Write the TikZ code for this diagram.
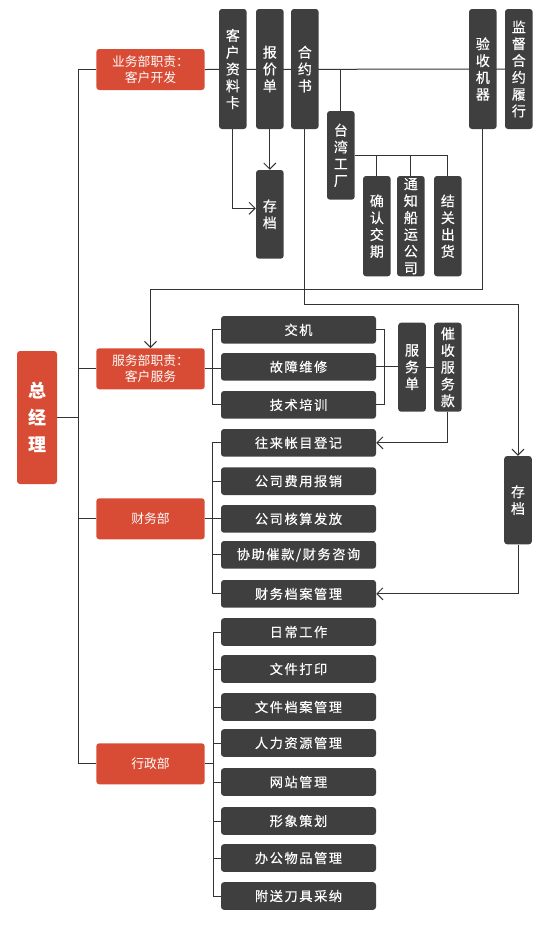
\documentclass[tikz,border=0pt]{standalone}
\usepackage{fontspec}
\setmainfont{Noto Sans CJK SC}
\newfontfamily\greyfont{Noto Sans CJK SC}[LetterSpace=12,FakeBold=0.4]
\newfontfamily\vfont{Noto Sans CJK SC}[FakeBold=0.4]
\usetikzlibrary{arrows.meta,backgrounds}
\definecolor{redc}{HTML}{D84B34}
\definecolor{greyc}{HTML}{3F3F3F}
\definecolor{linec}{HTML}{333333}
\tikzset{
  redbox/.style={fill=redc,rounded corners=3pt,text=white,inner sep=0pt,align=center,
    minimum width=108.4pt,minimum height=41pt,font=\fontsize{12.8}{16}\selectfont},
  vbox/.style={fill=greyc,rounded corners=3pt,text=white,inner sep=0pt,align=center,
    minimum width=27.7pt,font=\vfont\fontsize{14}{16.8}\selectfont},
  hbox/.style={fill=greyc,rounded corners=3pt,text=white,inner sep=0pt,align=center,
    minimum width=155pt,minimum height=27.7pt,font=\greyfont\fontsize{13.2}{16}\selectfont},
  conn/.style={draw=linec,line width=1pt},
  arr/.style={conn,-{Straight Barb[length=6pt,width=12pt]}},
}
\begin{document}
\begin{tikzpicture}[x=1pt,y=-1pt]
\useasboundingbox (0,0) rectangle (545,935);
% red boxes
\node[redbox] (yw) at (150.5,69.5) {业务部职责：\\客户开发};
\node[redbox] (fw) at (150.5,368.8) {服务部职责：\\客户服务};
\node[redbox] (cw) at (150.5,518.8) {财务部};
\node[redbox] (xz) at (150.5,763.8) {行政部};
\node[fill=redc,rounded corners=3pt,text=white,inner sep=0pt,align=center,
  minimum width=40pt,minimum height=133pt,font=\bfseries\fontsize{18}{26.7}\selectfont]
  (zjl) at (37,417.5) {总\\经\\理};
% vertical grey boxes
\node[vbox,minimum height=120pt] (khzl) at (232.85,69) {客\\户\\资\\料\\卡};
\node[vbox,minimum height=120pt] (bjd) at (269.85,69) {报\\价\\单};
\node[vbox,minimum height=120pt] (hys) at (304.85,69) {合\\约\\书};
\node[vbox,minimum height=120pt] (ysjq) at (482.85,69) {验\\收\\机\\器};
\node[vbox,minimum height=120pt] (jdhy) at (518.85,69) {监\\督\\合\\约\\履\\行};
\node[vbox,minimum height=88.7pt] (cd1) at (269.85,214.35) {存\\档};
\node[vbox,minimum height=88.7pt] (twgc) at (340.85,155.35) {台\\湾\\工\\厂};
\node[vbox,minimum height=100.3pt] (qrjq) at (376.85,226.15) {确\\认\\交\\期};
\node[vbox,minimum height=100.3pt] (tzcy) at (410.85,226.15) {通\\知\\船\\运\\公\\司};
\node[vbox,minimum height=100.3pt] (jgch) at (447.85,226.15) {结\\关\\出\\货};
\node[vbox,minimum height=89pt] (fwd) at (412,367.2) {服\\务\\单};
\node[vbox,minimum height=89pt] (csfwk) at (447.85,367.2) {催\\收\\服\\务\\款};
\node[vbox,minimum height=88.3pt] (cd2) at (518,500.15) {存\\档};
% horizontal grey boxes
\node[hbox] (jj) at (298.5,329.85) {交机};
\node[hbox] (gzwx) at (298.5,366.85) {故障维修};
\node[hbox] (jspx) at (298.5,404.85) {技术培训};
\node[hbox] (wlzm) at (298.5,442.85) {往来帐目登记};
\node[hbox] (gsfy) at (298.5,481.15) {公司费用报销};
\node[hbox] (gshs) at (298.5,518.85) {公司核算发放};
\node[hbox] (xzck) at (298.5,554.85) {协助催款/财务咨询};
\node[hbox] (cwda) at (298.5,593.85) {财务档案管理};
\node[hbox] (rcgz) at (298.5,632) {日常工作};
\node[hbox] (wjdy) at (298.5,669) {文件打印};
\node[hbox] (wjda) at (298.5,707) {文件档案管理};
\node[hbox] (rlzy) at (298.5,743) {人力资源管理};
\node[hbox] (wzgl) at (298.5,782) {网站管理};
\node[hbox] (xxch) at (298.5,821) {形象策划};
\node[hbox] (bgwp) at (298.5,858) {办公物品管理};
\node[hbox] (fsdj) at (298.5,896) {附送刀具采纳};
% helper coordinates
\coordinate (tk) at (78.3,0);
\coordinate (b1) at (212.5,0);
\coordinate (b2) at (384.3,0);
\coordinate (b4) at (213.3,0);
\coordinate (ry1) at (0,289);
\coordinate (ry2) at (0,304);
\begin{scope}[on background layer]
% trunk
\draw[conn] (yw.west) -- (yw.west -| tk) -- (xz.west -| tk) -- (xz.west);
\draw[conn] (fw.west) -- (fw.west -| tk);
\draw[conn] (cw.west) -- (cw.west -| tk);
\draw[conn] (zjl.east) -- (zjl.east -| tk);
% top row
\draw[conn] (yw.east) -- (jdhy.west);
\draw[conn] (twgc.north) -- (twgc.north |- yw.east);
\draw[conn] (twgc.east) -- (twgc.east -| jgch.north) -- (jgch.north);
\draw[conn] (qrjq.north) -- (qrjq.north |- twgc.east);
\draw[conn] (tzcy.north) -- (tzcy.north |- twgc.east);
\draw[arr] (khzl.south) |- ([yshift=6pt]cd1.west);
\draw[arr] (bjd.south) -- (cd1.north);
\draw[arr] (hys.south) -- (hys.south |- ry2) -| (cd2.north);
\draw[arr] (ysjq.south) -- (ysjq.south |- ry1) -| (fw.north);
% service
\draw[conn] (fw.east) -- (fw.east -| gzwx.west);
\draw[conn] (jj.west) -- (jj.west -| b1) -- (jspx.west -| b1) -- (jspx.west);
\draw[conn] (jj.east) -- (jj.east -| b2) -- (jspx.east -| b2) -- (jspx.east);
\draw[conn] (gzwx.east) -- (gzwx.east -| fwd.west);
\draw[conn] (fwd.east) -- (fwd.east -| csfwk.west);
\draw[arr] (csfwk.south) |- (wlzm.east);
\draw[arr] (cd2.south) |- (cwda.east);
% finance
\draw[conn] (cw.east) -- (cw.east -| b1);
\draw[conn] (wlzm.west) -- (wlzm.west -| b1) -- (cwda.west -| b1) -- (cwda.west);
\draw[conn] (gsfy.west) -- (gsfy.west -| b1);
\draw[conn] (gshs.west) -- (gshs.west -| b1);
\draw[conn] (xzck.west) -- (xzck.west -| b1);
% admin
\draw[conn] (xz.east) -- (xz.east -| b4);
\draw[conn] (rcgz.west) -- (rcgz.west -| b4) -- (fsdj.west -| b4) -- (fsdj.west);
\draw[conn] (wjdy.west) -- (wjdy.west -| b4);
\draw[conn] (wjda.west) -- (wjda.west -| b4);
\draw[conn] (rlzy.west) -- (rlzy.west -| b4);
\draw[conn] (wzgl.west) -- (wzgl.west -| b4);
\draw[conn] (xxch.west) -- (xxch.west -| b4);
\draw[conn] (bgwp.west) -- (bgwp.west -| b4);
\end{scope}
\end{tikzpicture}
\end{document}
